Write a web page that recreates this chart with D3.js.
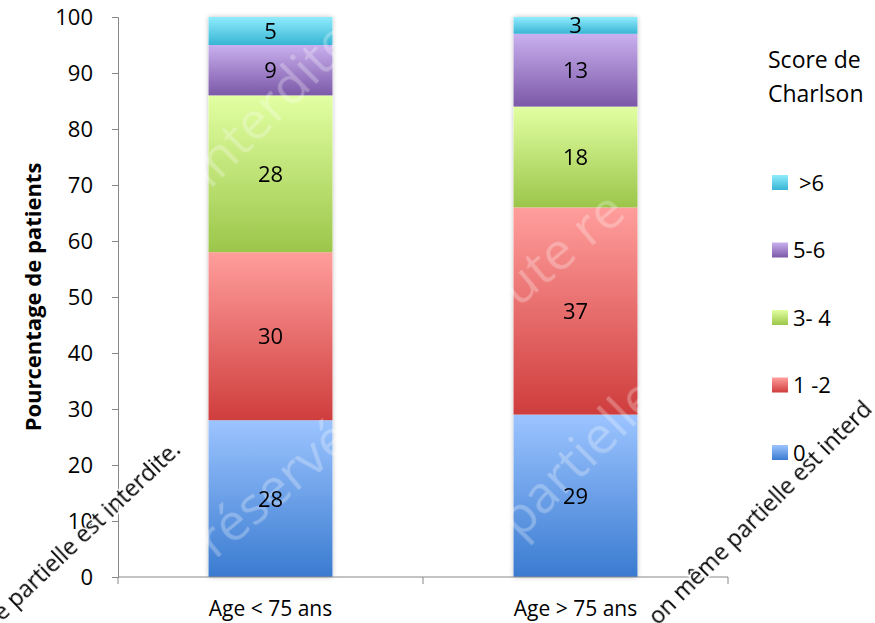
<!DOCTYPE html>
<html><head><meta charset="utf-8">
<script src="https://cdn.jsdelivr.net/npm/d3@7/dist/d3.min.js"></script>
<style>body{margin:0;background:#fff}svg{display:block}text{font-family:"Open Sans",sans-serif}</style>
</head><body>
<svg id="c" width="875" height="623"></svg>
<script>
const categories = ["Age < 75 ans", "Age > 75 ans"];
const seriesNames = ["0", "1 -2", "3- 4", "5-6", ">6"];
const values = {
  "0": [28, 29],
  "1 -2": [30, 37],
  "3- 4": [28, 18],
  "5-6": [9, 13],
  ">6": [5, 3]
};
const yTicks = [0,10,20,30,40,50,60,70,80,90,100];
const colors = {
  "0": ["#9cc4ff", "#3a7bd0"],
  "1 -2": ["#ff9e9c", "#cf3d3d"],
  "3- 4": ["#e2ffa2", "#9bc64a"],
  "5-6": ["#c9b0ee", "#7b58a8"],
  ">6": ["#90ecfd", "#38b5d4"]
};

const svg = d3.select("#c");
const defs = svg.append("defs");
seriesNames.forEach((s,i)=>{
  const g = defs.append("linearGradient").attr("id","g"+i).attr("x1",0).attr("y1",0).attr("x2",0).attr("y2",1);
  g.append("stop").attr("offset","0%").attr("stop-color",colors[s][0]);
  g.append("stop").attr("offset","100%").attr("stop-color",colors[s][1]);
});
const f = defs.append("filter").attr("id","sh").attr("x","-10%").attr("y","-5%").attr("width","120%").attr("height","110%");
f.append("feGaussianBlur").attr("in","SourceAlpha").attr("stdDeviation",2.5).attr("result","b");
f.append("feComponentTransfer").attr("in","b").attr("result","b2").append("feFuncA").attr("type","linear").attr("slope",0.25);
const fm = f.append("feMerge"); fm.append("feMergeNode").attr("in","b2"); fm.append("feMergeNode").attr("in","SourceGraphic");

const x0 = 118, x1 = 728, yTop = 17, yBot = 577;
const x = d3.scaleBand().domain(categories).range([x0,x1]).paddingInner(0).paddingOuter(0);
const y = d3.scaleLinear().domain([0,100]).range([yBot,yTop]);
const bw = 124;

const stack = d3.stack().keys(seriesNames);
const rows = categories.map((c,j)=>{ const o={cat:c}; seriesNames.forEach(s=>o[s]=values[s][j]); return o;});
const stacked = stack(rows);

svg.append("g").selectAll("rect").data(categories).join("rect")
  .attr("x",d=>x(d)+x.bandwidth()/2-bw/2).attr("width",bw)
  .attr("y",y(100)).attr("height",y(0)-y(100)).attr("fill","#fff").attr("filter","url(#sh)");

stacked.forEach((layer,i)=>{
  svg.append("g").selectAll("rect").data(layer).join("rect")
    .attr("x",d=>x(d.data.cat)+x.bandwidth()/2-bw/2).attr("width",bw)
    .attr("y",d=>y(d[1])).attr("height",d=>y(d[0])-y(d[1]))
    .attr("fill","url(#g"+i+")");
});

// faint white watermark
const wm = svg.append("g").attr("fill","#fff").attr("opacity",0.28).attr("font-size",52);
wm.append("text").attr("transform","translate(215,560) rotate(-40)").text("réservée");
wm.append("text").attr("transform","translate(520,540) rotate(-45)").text("partielle");
wm.append("text").attr("transform","translate(480,340) rotate(-40)").text("toute re");
wm.append("text").attr("transform","translate(210,190) rotate(-45)").text("interdite");

stacked.forEach((layer,i)=>{
  svg.append("g").selectAll("text").data(layer).join("text")
    .attr("x",d=>x(d.data.cat)+x.bandwidth()/2)
    .attr("y",d=>(y(d[0])+y(d[1]))/2)
    .attr("dy","0.36em").attr("text-anchor","middle").attr("font-size",22).attr("fill","#000")
    .text(d=>d[1]-d[0]);
});

const ya = svg.append("g").attr("transform",`translate(${x0},0)`)
  .call(d3.axisLeft(y).tickValues(yTicks).tickSize(6).tickPadding(19));
ya.select(".domain").attr("stroke","#888");
ya.selectAll(".tick line").attr("stroke","#888");
ya.selectAll("text").attr("font-size",22).attr("fill","#000").attr("font-family","'Open Sans',sans-serif");

const xa = svg.append("g").attr("transform",`translate(0,${yBot})`);
xa.append("line").attr("x1",x0).attr("x2",x1).attr("stroke","#888");
xa.selectAll("line.t").data([x0, ...categories.map(c=>x(c)+x.bandwidth())]).join("line").attr("class","t")
  .attr("x1",d=>d).attr("x2",d=>d).attr("y1",0).attr("y2",7).attr("stroke","#888");
xa.selectAll("text").data(categories).join("text")
  .attr("x",d=>x(d)+x.bandwidth()/2).attr("y",39).attr("text-anchor","middle").attr("font-size",21).text(d=>d);

svg.append("text").attr("transform","translate(41,297) rotate(-90)").attr("text-anchor","middle")
  .attr("font-size",22).attr("font-weight","bold").text("Pourcentage de patients");

svg.append("text").attr("x",768).attr("y",68).attr("font-size",23).text("Score de");
svg.append("text").attr("x",768).attr("y",102).attr("font-size",23).text("Charlson");
const legOrder = seriesNames.slice().reverse();
const ly = d3.scalePoint().domain(legOrder).range([183,453]);
const lg = svg.append("g").selectAll("g").data(legOrder).join("g").attr("transform",d=>`translate(772,${ly(d)})`);
lg.append("rect").attr("x",0).attr("y",-8).attr("width",16).attr("height",15)
  .attr("fill",d=>"url(#g"+seriesNames.indexOf(d)+")");
lg.append("text").attr("x",d=>d===">6"?27:21).attr("y",0).attr("dy","0.36em").attr("font-size",22).text(d=>d);

const bw2 = svg.append("g").attr("font-size",23).attr("fill","#000").attr("stroke","#fff").attr("stroke-width",3).attr("paint-order","stroke");
bw2.append("text").attr("transform","translate(2,622) rotate(-43.5)").text("e partielle est interdite.");
bw2.append("text").attr("transform","translate(658,626) rotate(-45)").text("on même partielle est interd");
</script>
</body></html>
